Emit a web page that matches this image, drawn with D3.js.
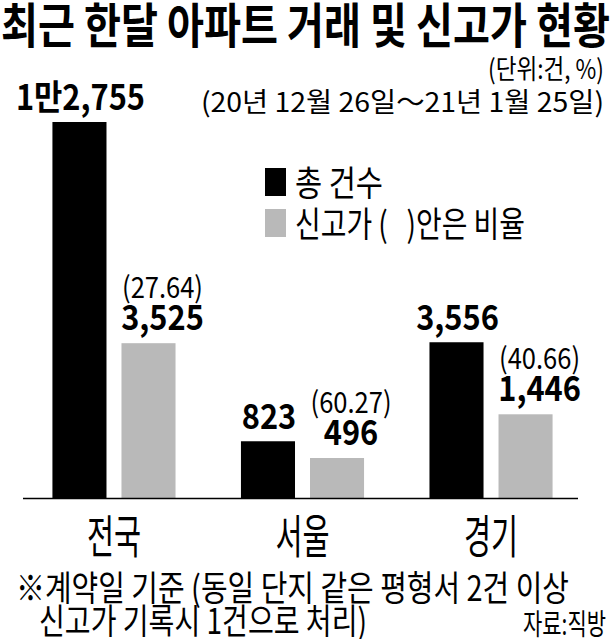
<!DOCTYPE html>
<html><head><meta charset="utf-8">
<script src="https://cdn.jsdelivr.net/npm/d3@7"></script>
<style>
body{margin:0;background:#fff}
svg{display:block}
text{font-family:"Noto Sans CJK KR","Noto Sans",sans-serif;fill:#000;white-space:pre}
</style>
</head><body>
<svg id="c" width="613" height="639"></svg>
<script>
// ---- data ----
const categories = ["전국", "서울", "경기"];
const totalCounts = [12755, 823, 3556];
const highCounts = [3525, 496, 1446];
const highRatios = [27.64, 60.27, 40.66];
const seriesNames = ["총 건수", "신고가 (   )안은 비율"];
const seriesColors = ["#000000", "#b9b9b9"];
const titleText = "최근 한달 아파트 거래 및 신고가 현황";
const unitText = "(단위:건, %)";
const periodText = "(20년 12월 26일～21년 1월 25일)";
const noteLines = ["※계약일 기준 (동일 단지 같은 평형서 2건 이상", "신고가 기록시 1건으로 처리)"];
const sourceText = "자료:직방";

const svg = d3.select("#c");
const W = 613, H = 639;
svg.append("rect").attr("width", W).attr("height", H).attr("fill", "#fff");

const baseY = 498;
const x0 = d3.scaleBand().domain(categories).range([25, 580]).paddingInner(0.347).paddingOuter(0.1455);
const x1 = d3.scaleBand().domain([0, 1]).range([0, x0.bandwidth()]).paddingInner(0.217);
const y = d3.scalePow().exponent(0.69).domain([0, d3.max(totalCounts)]).range([baseY, 122]);

function fmtTotal(v) {
  if (v >= 10000) return Math.floor(v / 10000) + "만" + d3.format(",")(v % 10000);
  return d3.format(",")(v);
}

function fitText(str, x, yy, size, weight, len, anchor) {
  const t = svg.append("text").attr("x", x).attr("y", yy)
    .attr("font-size", size).attr("font-weight", weight)
    .attr("text-anchor", anchor || "start").text(str);
  if (len) t.attr("textLength", len).attr("lengthAdjust", "spacingAndGlyphs");
  return t;
}
function scaledText(str, x, yy, size, weight, sx) {
  svg.append("g").attr("transform", `translate(${x},${yy}) scale(${sx},1)`)
    .append("text").attr("text-anchor", "middle")
    .attr("font-size", size).attr("font-weight", weight).text(str);
}

// title & header
fitText(titleText, 1, 43, 48, 700, 609);
fitText(unitText, 488, 79, 27, 400, 116);
fitText(periodText, 201, 112, 27, 400, 403);

// legend
seriesNames.forEach((n, i) => {
  const ly = 168 + i * 41;
  svg.append("rect").attr("x", 265).attr("y", ly).attr("width", 21).attr("height", 28).attr("fill", seriesColors[i]);
  fitText(n, 295, ly + 28, 35, 400, i === 0 ? 88 : 230);
});

// bars
const groups = svg.append("g");
categories.forEach((c, i) => {
  const gx = x0(c);
  const vals = [totalCounts[i], highCounts[i]];
  vals.forEach((v, j) => {
    groups.append("rect")
      .attr("x", gx + x1(j)).attr("y", y(v))
      .attr("width", x1.bandwidth()).attr("height", baseY - y(v))
      .attr("fill", seriesColors[j]);
  });
  // total label
  const cx0 = gx + x1(0) + x1.bandwidth() / 2;
  scaledText(fmtTotal(totalCounts[i]), cx0 + 1, y(totalCounts[i]) - 12, 35, 700, 0.88);
  // high label
  const cx1 = gx + x1(1) + x1.bandwidth() / 2 + 14;
  const vy = y(highCounts[i]) - 13;
  scaledText(d3.format(",")(highCounts[i]), cx1, vy, 35, 700, 0.88);
  scaledText("(" + d3.format(".2f")(highRatios[i]) + ")", cx1, vy - 32, 29, 400, 0.88);
  // category
  scaledText(c, gx + x0.bandwidth() / 2, 553, 46, 400, 0.64);
});

// axis baseline
svg.append("line").attr("x1", 23).attr("x2", 578).attr("y1", baseY + 0.5).attr("y2", baseY + 0.5)
  .attr("stroke", "#000").attr("stroke-width", 1.5);

// notes
fitText(noteLines[0], 16, 601, 35, 400, 553);
fitText(noteLines[1], 39, 634, 35, 400, 328);
fitText(sourceText, 523, 635, 29, 400, 83);
</script>
</body></html>
